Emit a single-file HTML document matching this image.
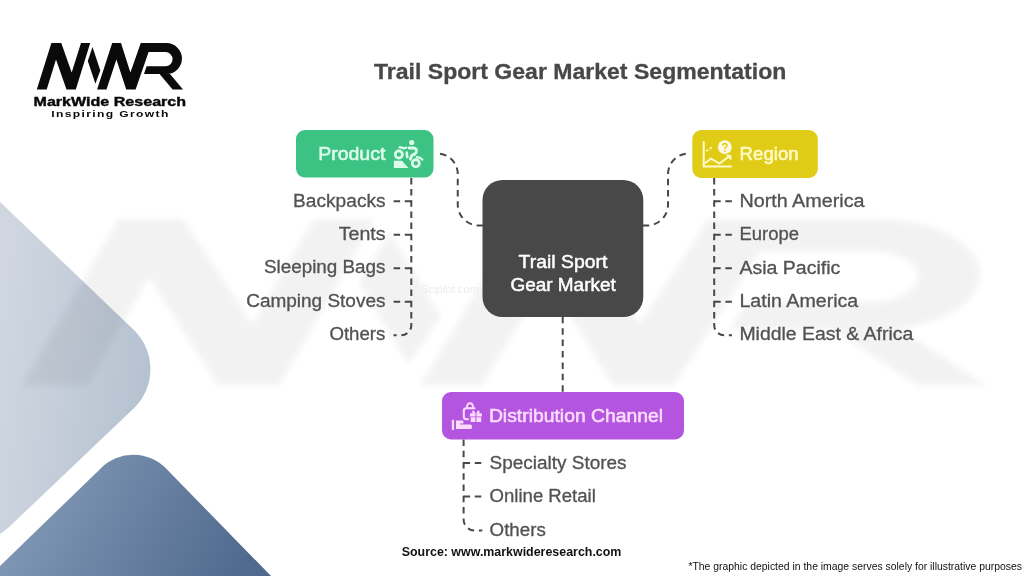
<!DOCTYPE html>
<html><head><meta charset="utf-8"><title>Trail Sport Gear Market Segmentation</title>
<style>
html,body{margin:0;padding:0;background:#fff;}
body{width:1024px;height:576px;overflow:hidden;font-family:"Liberation Sans",sans-serif;}
svg{display:block;opacity:0.999;}
text{font-family:"Liberation Sans",sans-serif;}
.it{font-size:18px;fill:#525252;stroke:#525252;stroke-width:0.3;}
.ln{fill:none;stroke:#484848;stroke-width:2;}
</style></head><body>
<svg width="1024" height="576" viewBox="0 0 1024 576">
<defs>
<linearGradient id="g1" x1="0" y1="350" x2="165" y2="370" gradientUnits="userSpaceOnUse">
<stop offset="0" stop-color="#cfd6e0"/><stop offset="1" stop-color="#b3c0cf"/></linearGradient>
<linearGradient id="g2" x1="40" y1="470" x2="240" y2="576" gradientUnits="userSpaceOnUse">
<stop offset="0" stop-color="#8197b5"/><stop offset="1" stop-color="#4f6a8e"/></linearGradient>
<filter id="bl" x="-5%" y="-5%" width="110%" height="110%"><feGaussianBlur stdDeviation="3"/></filter>
</defs>
<rect width="1024" height="576" fill="#fff"/>

<!-- BG-SHAPES -->
<path d="M-2,200 L135.2,331.2 A55,55 0 0 1 135.2,407.1 L8,528 Q2,533 -2,535 Z" fill="url(#g1)"/>
<path d="M-2,568 L101.2,467.9 A46,46 0 0 1 166.3,468.8 L271,576 L-2,578 Z" fill="url(#g2)"/>
<!-- WATERMARK -->
<g fill="#000" opacity="0.048" filter="url(#bl)">
<g transform="translate(22,219) scale(6.6,3.58) translate(-36.8,-43.1)">
<path d="M36.8,89.6 L51.4,43.1 L61.25,43.1 L71.7,72.5 L81,43.1 L90.2,43.1 L75.8,89.6 L66.5,89.6 L56,59.4 L46.7,89.6 Z"/>
<path d="M92.5,46.9 L100.3,70.4 L95.4,83.7 L87.8,61 Z"/>
<path d="M97.1,89.6 L112.2,43.1 L121,43.1 L130.4,72.5 L140.8,43.1 L166.5,43.1 A15.45,15.45 0 0 1 166.5,74 L144,74 L146.6,66.2 L165.5,66.2 A7.05,7.05 0 0 0 165.5,52.1 L148.6,52.1 L135.6,89.6 L126.25,89.6 L116.4,59.4 L106.5,89.6 Z"/>
<path d="M159.6,74 L172.6,89.6 L183,89.6 L170,74 Z"/>
</g></g>
<!-- LOGO -->
<g fill="#0a0a0a">
<path d="M36.8,89.6 L51.4,43.1 L61.25,43.1 L71.7,72.5 L81,43.1 L90.2,43.1 L75.8,89.6 L66.5,89.6 L56,59.4 L46.7,89.6 Z"/>
<path d="M92.5,46.9 L100.3,70.4 L95.4,83.7 L87.8,61 Z"/>
<path d="M97.1,89.6 L112.2,43.1 L121,43.1 L130.4,72.5 L140.8,43.1 L166.5,43.1 A15.45,15.45 0 0 1 166.5,74 L144,74 L146.6,66.2 L165.5,66.2 A7.05,7.05 0 0 0 165.5,52.1 L148.6,52.1 L135.6,89.6 L126.25,89.6 L116.4,59.4 L106.5,89.6 Z"/>
<path d="M159.6,74 L172.6,89.6 L183,89.6 L170,74 Z"/>
<text x="33.5" y="106.3" font-size="12.6" font-weight="bold" stroke="#0a0a0a" stroke-width="0.4" textLength="152.6" lengthAdjust="spacingAndGlyphs">MarkWide Research</text>
<text x="51.3" y="116.9" font-size="9" font-weight="bold" letter-spacing="1" textLength="118.4" lengthAdjust="spacingAndGlyphs">Inspiring Growth</text>
</g>
<!-- TITLE -->
<text x="374" y="78.6" font-size="21.8" font-weight="bold" fill="#484848" stroke="#484848" stroke-width="0.3" textLength="412.3" lengthAdjust="spacingAndGlyphs">Trail Sport Gear Market Segmentation</text>
<!-- LINES -->
<g class="ln" stroke-dasharray="6.5 4.67">
<path d="M483,225.5 H478.75 A21,21 0 0 1 457.75,204.5 V174 A20.5,20.5 0 0 0 437.25,153.5 H436" stroke-dasharray="6.5 4.77"/>
<path d="M642.8,225.5 H647.05 A21,21 0 0 0 668.05,204.5 V174 A20.5,20.5 0 0 1 688.55,153.5 H689.8" stroke-dasharray="6.5 4.77"/>
<path d="M562.7,316.8 V392" stroke-dasharray="6.5 4.9"/>
<path d="M411.3,177.9 V325.2 A10,10 0 0 1 401.3,335.2 H393.5"/>
<path d="M411.3,201.25 H393"/><path d="M411.3,234.75 H393"/><path d="M411.3,268.25 H393"/><path d="M411.3,301.75 H393"/>
<path d="M714.2,177.9 V325.2 A10,10 0 0 0 724.2,335.2 H732"/>
<path d="M714.2,201.25 H732.5"/><path d="M714.2,234.75 H732.5"/><path d="M714.2,268.25 H732.5"/><path d="M714.2,301.75 H732.5"/>
<path d="M463.6,439.5 V519.5 A11,11 0 0 0 474.6,530.5 H482.3" stroke-dasharray="6.5 4.77"/>
<path d="M463.6,463.1 H481.9"/><path d="M463.6,496.6 H481.9"/>
</g>
<text x="421" y="293" font-size="11" font-style="italic" fill="#ececec" textLength="58" lengthAdjust="spacingAndGlyphs">Sciplot.com</text>
<!-- BOXES -->
<rect x="482.5" y="180" width="160.8" height="137" rx="20" fill="#484848"/>
<text x="518.6" y="268.2" font-size="17.6" fill="#fff" stroke="#fff" stroke-width="0.45" textLength="88.7" lengthAdjust="spacingAndGlyphs">Trail Sport</text>
<text x="510.4" y="290.5" font-size="17.6" fill="#fff" stroke="#fff" stroke-width="0.45" textLength="105.4" lengthAdjust="spacingAndGlyphs">Gear Market</text>

<rect x="296" y="130" width="137.5" height="47.6" rx="9" fill="#3cc383"/>
<text x="318.2" y="159.9" font-size="18" fill="#defceb" stroke="#defceb" stroke-width="0.55" textLength="67.2" lengthAdjust="spacingAndGlyphs">Product</text>
<g id="ic-product" fill="none" stroke="#defceb" stroke-linecap="round" stroke-linejoin="round">
<circle cx="411.75" cy="142.5" r="2.55" fill="#defceb" stroke="none"/>
<circle cx="398.8" cy="154.5" r="3.55" stroke-width="2.7"/>
<circle cx="415.8" cy="163.2" r="3.55" stroke-width="2.7"/>
<path d="M393.9,160.7 V168 H408.5 L401.9,160.7 Z" fill="#defceb" stroke="none"/>
<path d="M399.6,147.4 Q402.5,147.3 404,148.6 L406.2,147.6" stroke-width="2.2"/>
<path d="M406.8,152.6 Q406.6,155 407.4,157" stroke-width="2.6"/>
<path d="M409,148 H413.4 Q417,148.2 416.4,151.6 Q415.8,154.2 412.2,155.2 Q411,156.8 410.4,159.2" stroke-width="2.8"/>
<path d="M416.8,157.2 Q420.4,157.2 422.4,159.6" stroke-width="2.2"/>
</g>

<rect x="692.3" y="130" width="125.5" height="48" rx="9" fill="#e0cc17"/>
<text x="739.6" y="159.8" font-size="18" fill="#fffac8" stroke="#fffac8" stroke-width="0.55" textLength="59" lengthAdjust="spacingAndGlyphs">Region</text>
<g id="ic-region" fill="none" stroke="#fffac8" stroke-linecap="butt" stroke-linejoin="miter">
<path d="M703.7,141.2 V166.5 H731.8" stroke-width="2.1"/>
<path d="M706.2,151.2 L712.8,146.6" stroke-width="1.6" stroke-dasharray="2.6 1.6"/>
<circle cx="724.8" cy="147.2" r="6.9" fill="#fffbe0" stroke="none"/>
<path d="M722.6,145.6 Q722.7,143.4 724.9,143.4 Q727.1,143.5 727,145.5 Q726.9,146.8 725.5,147.4 Q724.8,147.8 724.8,149" stroke="#e0cc17" stroke-width="1.5"/>
<circle cx="724.8" cy="151" r="0.9" fill="#e0cc17" stroke="none"/>
<path d="M705,163.3 L710.9,158.7 L719.6,163.6 L729.5,155.9" stroke-width="1.9"/>
<path d="M726.4,155.2 H731 V159.8 Z" fill="#fffac8" stroke-width="0.8"/>
</g>

<rect x="442" y="392" width="242" height="47.5" rx="9" fill="#b455e0"/>
<text x="488.9" y="421.5" font-size="18" fill="#fbdcff" stroke="#fbdcff" stroke-width="0.55" textLength="174.2" lengthAdjust="spacingAndGlyphs">Distribution Channel</text>
<g id="ic-dist" fill="#fbdcff" stroke="none">
<rect x="451.8" y="419.8" width="2.3" height="10.2" rx="0.7"/>
<path d="M456,420.4 H462.4 Q463.4,420.4 463.4,421.4 V423.6 H460 V424.5 H470.3 Q471.9,424.5 471.9,426 V427.4 Q471.9,428.9 470.3,428.9 H456 Z"/>
<path d="M475.3,408.3 H466.3 Q463.8,408.3 463.8,410.8 V416.6 Q463.8,419.2 466.3,419.2 H468.8" fill="none" stroke="#fbdcff" stroke-width="2.1"/>
<path d="M466.9,408 Q466.9,403.3 470,403.3 Q473.1,403.3 473.1,408" fill="none" stroke="#fbdcff" stroke-width="1.9"/>
<rect x="469.9" y="413.3" width="12" height="3.2" rx="0.6"/>
<rect x="470.7" y="417.2" width="10.5" height="4.8" rx="0.6"/>
<rect x="475.4" y="413" width="1" height="9.5" fill="#b455e0"/>
<path d="M472.9,413.4 Q471.3,411 473.2,410.4 Q474.8,410.4 475.4,413.4 Z"/>
<path d="M478.9,413.4 Q480.5,411 478.6,410.4 Q477,410.4 476.4,413.4 Z"/>
</g>
<!-- ITEMS -->
<g class="it">
<text x="293.1" y="206.9" textLength="92.5" lengthAdjust="spacingAndGlyphs">Backpacks</text>
<text x="338.8" y="240.1" textLength="46.8" lengthAdjust="spacingAndGlyphs">Tents</text>
<text x="264" y="273.3" textLength="121.5" lengthAdjust="spacingAndGlyphs">Sleeping Bags</text>
<text x="246.2" y="306.7" textLength="139.3" lengthAdjust="spacingAndGlyphs">Camping Stoves</text>
<text x="329.4" y="340.3" textLength="56" lengthAdjust="spacingAndGlyphs">Others</text>

<text x="739.4" y="206.9" textLength="125.2" lengthAdjust="spacingAndGlyphs">North America</text>
<text x="739.4" y="240.2" textLength="59.6" lengthAdjust="spacingAndGlyphs">Europe</text>
<text x="739.4" y="273.5" textLength="100.9" lengthAdjust="spacingAndGlyphs">Asia Pacific</text>
<text x="739.4" y="306.9" textLength="118.9" lengthAdjust="spacingAndGlyphs">Latin America</text>
<text x="739.4" y="340.3" textLength="173.9" lengthAdjust="spacingAndGlyphs">Middle East &amp; Africa</text>

<text x="489.6" y="468.5" textLength="137" lengthAdjust="spacingAndGlyphs">Specialty Stores</text>
<text x="489.6" y="502.1" textLength="106.2" lengthAdjust="spacingAndGlyphs">Online Retail</text>
<text x="489.6" y="535.5" textLength="56.2" lengthAdjust="spacingAndGlyphs">Others</text>
</g>
<!-- FOOTER -->
<text x="401.7" y="555.8" font-size="12.4" font-weight="bold" fill="#111" textLength="219.7" lengthAdjust="spacingAndGlyphs">Source: www.markwideresearch.com</text>
<text x="688.4" y="569.5" font-size="10.6" fill="#111" textLength="333.6" lengthAdjust="spacingAndGlyphs">*The graphic depicted in the image serves solely for illustrative purposes</text>
</svg>
</body></html>
